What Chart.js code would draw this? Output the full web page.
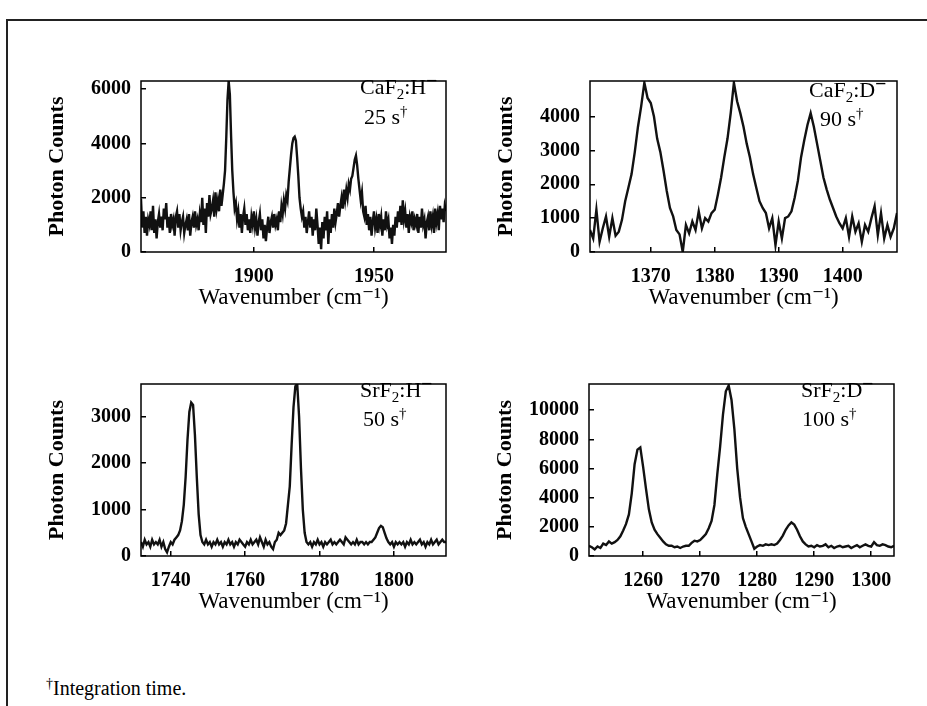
<!DOCTYPE html>
<html lang="en">
<head>
<meta charset="UTF-8" />
<title>Hydride local-mode spectra</title>
<script src="https://cdn.jsdelivr.net/npm/chart.js"></script>
<style>
  body { margin: 0; background: #fff; width: 927px; height: 706px; overflow: hidden; position: relative;
         font-family: "Liberation Serif", "DejaVu Serif", serif; color: #000; }
  #border { position: absolute; left: 6px; top: 19px; width: 980px; height: 760px; border: 2px solid #222; }
  canvas { position: absolute; }
  .tag { position: absolute; font-size: 22px; line-height: 1; white-space: nowrap; z-index: 2; }
  .tag sub { font-size: 15px; vertical-align: -5px; line-height: 0; }
  .tag sup { font-size: 15px; vertical-align: 8px; line-height: 0; }
  .tag .mi { display: inline-block; font-size: 18px; font-weight: bold; vertical-align: 9px; line-height: 0; margin-left: 1px; }
  #note { position: absolute; left: 46px; top: 678px; font-size: 20px; line-height: 1; }
  #note sup { font-size: 14px; vertical-align: 7px; line-height: 0; }
</style>
</head>
<body>
<div id="border"></div>

<canvas id="c1"></canvas>
<canvas id="c2"></canvas>
<canvas id="c3"></canvas>
<canvas id="c4"></canvas>

<div class="tag" style="left:360px;top:76px">CaF<sub>2</sub>:H<span class="mi">–</span></div>
<div class="tag" style="left:364px;top:106px">25 s<sup>†</sup></div>
<div class="tag" style="left:809px;top:79px">CaF<sub>2</sub>:D<span class="mi">–</span></div>
<div class="tag" style="left:820px;top:108px">90 s<sup>†</sup></div>
<div class="tag" style="left:360px;top:379px">SrF<sub>2</sub>:H<span class="mi">–</span></div>
<div class="tag" style="left:363px;top:408px">50 s<sup>†</sup></div>
<div class="tag" style="left:801px;top:379px">SrF<sub>2</sub>:D<span class="mi">–</span></div>
<div class="tag" style="left:802px;top:408px">100 s<sup>†</sup></div>

<div id="note"><sup>†</sup>Integration time.</div>

<script>
// CaF2:H-  (sampled every 0.5 cm-1 from 1853)
const caH_start = 1853, caH_step = 0.5;
const caH_counts = [
  1950, 900, 1500, 700, 1300, 600, 1200, 1000, 1500, 800,
  1700, 700, 1200, 500, 1100, 1400, 900, 1300, 800, 1600,
  1200, 1800, 900, 1300, 700, 1400, 1000, 1200, 600, 1300,
  1500, 900, 1400, 800, 1100, 1300, 700, 1000, 1200, 800,
  1400, 600, 1100, 1300, 900, 1500, 1000, 1200, 800, 1400,
  1100, 2000, 1000, 1600, 700, 1800, 1300, 2100, 1400, 1600,
  1900, 1300, 2200, 1600, 1900, 1500, 2300, 1700, 2100, 2500,
  3000, 4200, 5600, 6300, 5800, 4300, 3000, 2200, 1600, 1800,
  1200, 1500, 900, 1400, 700, 1300, 1600, 1000, 1400, 800,
  1200, 700, 1300, 1000, 1500, 900, 1200, 600, 1100, 1400,
  800, 1200, 500, 1000, 400, 900, 1300, 700, 1100, 1300,
  900, 1400, 1000, 1200, 800, 1500, 1100, 1700, 1400, 1900,
  1600, 2100, 1900, 2600, 3100, 3600, 4000, 4200, 4250, 4100,
  3500, 2800, 2000, 1600, 1300, 1500, 900, 1300, 700, 1100,
  1500, 900, 1300, 600, 1200, 800, 1600, 1000, 300, 900,
  100, 1100, 500, 1300, 800, 1500, 300, 1200, 700, 1400,
  900, 1600, 1100, 1400, 1800, 1300, 1700, 2000, 1600, 2300,
  1900, 2300, 2000, 2500, 2300, 2700, 2800, 3100, 3400, 3550,
  3200, 2700, 2300, 1900, 2200, 1500, 1300, 1700, 1000, 1400,
  800, 1300, 600, 1100, 1500, 900, 1200, 700, 1400, 1000,
  1300, 600, 1200, 800, 1500, 1000, 1200, 500, 900, 300,
  1000, 600, 1300, 900, 1500, 1100, 1700, 1000, 1900, 1200,
  1500, 900, 1400, 700, 1300, 1100, 1500, 800, 1200, 1000,
  1400, 700, 1300, 900, 1600, 1000, 1200, 500, 1100, 1300,
  800, 1500, 1000, 1300, 700, 1600, 1100, 1400, 800, 1700,
  1200, 1600, 1100, 1700, 1500
];
const caH_xTicks = [1900, 1950];
const caH_yTicks = [0, 2000, 4000, 6000];

// CaF2:D-  (every 0.5 cm-1 from 1360.5)
const caD_start = 1360.5, caD_step = 0.5;
const caD_counts = [
  650, 400, 1250, 300, 700, 1050, 450, 1000, 480, 600,
  950, 1500, 1900, 2300, 2950, 3700, 4300, 5000, 4550, 4400,
  4000, 3350, 2950, 2400, 1800, 1300, 1050, 650, 520, 0,
  800, 550, 900, 650, 1200, 700, 1000, 900, 1150, 1250,
  1700, 2200, 2800, 3350, 4100, 5000, 4450, 4100, 3700, 3200,
  2800, 2300, 1900, 1500, 1300, 1150, 700, 1000, 200, 900,
  400, 1000, 1050, 1200, 1600, 2100, 2800, 3300, 3750, 4100,
  3700, 3200, 2700, 2200, 1850, 1550, 1300, 1050, 850, 700,
  1000, 450, 1050, 600, 850, 300, 800, 600, 1000, 1350,
  500, 1150, 400, 800, 450, 700, 1150
];
const caD_xTicks = [1370, 1380, 1390, 1400];
const caD_yTicks = [0, 1000, 2000, 3000, 4000];

// SrF2:H-  (every 0.5 cm-1 from 1732)
const srH_start = 1732, srH_step = 0.5;
const srH_counts = [
  300, 200, 350, 250, 300, 200, 350, 250, 300, 250,
  350, 200, 300, 150, 80, 200, 300, 250, 350, 400,
  450, 550, 750, 1100, 1700, 2500, 3100, 3300, 3250, 2600,
  1700, 900, 450, 300, 250, 350, 250, 300, 200, 300,
  250, 350, 250, 300, 200, 300, 250, 350, 250, 300,
  200, 300, 250, 350, 300, 250, 200, 300, 250, 350,
  250, 300, 350, 250, 400, 300, 200, 350, 250, 300,
  200, 150, 300, 350, 500, 450, 500, 550, 700, 1100,
  1500, 2400, 3200, 3650, 3700, 3000, 1900, 1000, 500, 300,
  250, 300, 200, 300, 250, 350, 250, 300, 200, 300,
  250, 300, 350, 250, 300, 250, 300, 350, 300, 250,
  400, 350, 300, 250, 300, 250, 350, 250, 300, 300,
  250, 300, 250, 300, 300, 350, 400, 500, 600, 650,
  620, 500, 380, 300, 250, 300, 200, 300, 250, 300,
  250, 300, 200, 300, 250, 350, 250, 300, 250, 300,
  350, 250, 300, 200, 300, 250, 350, 250, 300, 350,
  250, 300, 350, 300, 300
];
const srH_xTicks = [1740, 1760, 1780, 1800];
const srH_yTicks = [0, 1000, 2000, 3000];

// SrF2:D-  (every 0.5 cm-1 from 1250.5)
const srD_start = 1250.5, srD_step = 0.5;
const srD_counts = [
  700, 600, 450, 650, 550, 850, 750, 1000, 850, 950,
  1100, 1350, 1750, 2200, 2850, 4300, 6300, 7300, 7450, 6100,
  4600, 3200, 2300, 1800, 1500, 1250, 1000, 800, 700, 700,
  600, 650, 550, 650, 700, 700, 900, 1050, 1000, 1100,
  1300, 1500, 1900, 2400, 3500, 5600, 7500, 9700, 11300, 11700,
  10700, 8700, 6000, 4000, 2600, 2000, 1500, 1000, 500, 650,
  750, 700, 800, 750, 800, 750, 850, 1100, 1400, 1800,
  2100, 2300, 2150, 1800, 1350, 1000, 800, 650, 700, 600,
  750, 650, 700, 800, 600, 700, 550, 650, 700, 600,
  650, 700, 550, 650, 750, 600, 700, 800, 700, 650,
  950, 750, 700, 800, 750, 650, 600, 700
];
const srD_xTicks = [1260, 1270, 1280, 1290, 1300];
const srD_yTicks = [0, 2000, 4000, 6000, 8000, 10000];

Chart.defaults.font.family = "'Liberation Serif', 'DejaVu Serif', serif";
Chart.defaults.color = '#000';

// box drawn round the plot area
const boxPlugin = {
  id: 'box',
  afterDatasetsDraw(chart) {
    const a = chart.chartArea, ctx = chart.ctx;
    ctx.save();
    ctx.strokeStyle = '#000';
    ctx.lineWidth = 1.5;
    ctx.strokeRect(a.left, a.top, a.right - a.left, a.bottom - a.top);
    ctx.restore();
  }
};

// frame = [left, top, right, bottom] of the plot box on the page
function panel(id, frame, xMin, xMax, yMax, start, step, counts, xTicks, yTicks) {
  const c = document.getElementById(id);
  const w = frame[2] - frame[0] + 120, h = frame[3] - frame[1] + 90;
  c.width = w; c.height = h;
  c.style.left = (frame[0] - 100) + 'px';
  c.style.top = (frame[1] - 10) + 'px';
  c.style.width = w + 'px'; c.style.height = h + 'px';

  new Chart(c, {
    type: 'line',
    data: {
      datasets: [{
        data: counts.map((v, i) => ({ x: start + i * step, y: v })),
        borderColor: '#111', borderWidth: 2.4, pointRadius: 0, tension: 0, fill: false
      }]
    },
    options: {
      responsive: false, animation: false,
      layout: { padding: { left: 0, top: 10, right: 20, bottom: 0 } },
      plugins: { legend: { display: false }, tooltip: { enabled: false } },
      scales: {
        x: {
          type: 'linear', min: xMin, max: xMax,
          afterFit: s => { s.height = 80; },
          afterBuildTicks: s => { s.ticks = xTicks.map(v => ({ value: v })); },
          grid: { drawOnChartArea: false, tickLength: -5, color: '#000', lineWidth: 1.5 },
          border: { display: false },
          ticks: { padding: 18, autoSkip: false, maxRotation: 0, font: { size: 20, weight: 'bold' },
                   callback: v => String(v) },
          title: { display: true, text: 'Wavenumber (cm⁻¹)', font: { size: 23 },
                   padding: { top: 0, bottom: 20 } }
        },
        y: {
          min: 0, max: yMax,
          afterFit: s => { s.width = 100; },
          afterBuildTicks: s => { s.ticks = yTicks.map(v => ({ value: v })); },
          grid: { drawOnChartArea: false, tickLength: -5, color: '#000', lineWidth: 1.5 },
          border: { display: false },
          ticks: { padding: 15, autoSkip: false, font: { size: 20, weight: 'bold' },
                   callback: v => String(v) },
          title: { display: true, text: 'Photon Counts', font: { size: 22, weight: 'bold' },
                   padding: { top: 3, bottom: 0 } }
        }
      }
    },
    plugins: [boxPlugin]
  });
}

panel('c1', [141, 64, 446, 252], 1853, 1980, 6300, caH_start, caH_step, caH_counts, caH_xTicks, caH_yTicks);
panel('c2', [590, 64, 897, 252], 1360.5, 1408.5, 5050, caD_start, caD_step, caD_counts, caD_xTicks, caD_yTicks);
panel('c3', [141, 367, 446, 556], 1732, 1814, 3700, srH_start, srH_step, srH_counts, srH_xTicks, srH_yTicks);
panel('c4', [589, 367, 894, 556], 1250.5, 1304, 11800, srD_start, srD_step, srD_counts, srD_xTicks, srD_yTicks);
</script>
</body>
</html>
